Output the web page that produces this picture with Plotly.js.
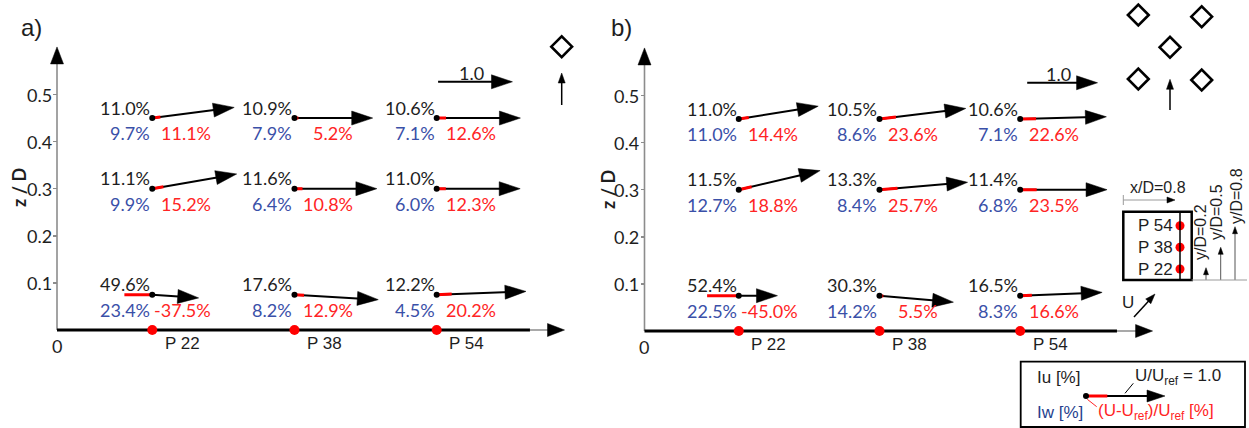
<!DOCTYPE html>
<html>
<head>
<meta charset="utf-8">
<script src="https://cdn.plot.ly/plotly-3.0.1.min.js"></script>
<style>
  html, body { margin: 0; padding: 0; background: #ffffff; }
  #chart { width: 1249px; height: 428px; }
</style>
</head>
<body>
<div id="chart"></div>
<script>
// Probe stations along the ground line and the three measurement heights
const stations = ['P 22', 'P 38', 'P 54'];
const stationPos = [1, 2, 3];
const heights = [0.45, 0.30, 0.075];          // z/D of the measurement rows
const yTicks = [0.1, 0.2, 0.3, 0.4, 0.5];

// a) single building  (rows follow `heights`, columns follow `stations`)
const iuA = [[11.0, 10.9, 10.6], [11.1, 11.6, 11.0], [49.6, 17.6, 12.2]];   // Iu [%]
const iwA = [[9.7, 7.9, 7.1], [9.9, 6.4, 6.0], [23.4, 8.2, 4.5]];          // Iw [%]
const duA = [[11.1, 5.2, 12.6], [15.2, 10.8, 12.3], [-37.5, 12.9, 20.2]];  // (U-Uref)/Uref [%]
const angA = [[7.4, 0, 0], [9.9, 0, 0], [-4.0, -3.4, 2.1]];                // flow angle [deg]

// b) building group
const iuB = [[11.0, 10.5, 10.6], [11.5, 13.3, 11.4], [52.4, 30.3, 16.5]];
const iwB = [[11.0, 8.6, 7.1], [12.7, 8.4, 6.8], [22.5, 14.2, 8.3]];
const duB = [[14.4, 23.6, 22.6], [18.8, 25.7, 23.5], [-45.0, 5.5, 16.6]];
const angB = [[9.2, 7.0, 1.5], [13.2, 4.8, 0], [0, -5.0, 2.3]];

// ---------------------------------------------------------------------------
const W = 1249, H = 428;
const X0 = 0.33;            // origin of the distance axis
const XR0 = 0.2, X1 = 4.0;  // visible x range
const ZR0 = -0.05, Z1 = 0.62;
const NUM_FONT = 'Lato, "Open Sans", sans-serif';
const SANS = '"Liberation Sans", Arial, sans-serif';
const C_TXT = '#1e1e1e', C_BLUE = '#3a50a8', C_RED = '#ff2424', C_AXIS = '#8c8c8c';

const panels = [
  { xa: 'x',  ya: 'y',  left: 57,    base: 330, pxX: 142.2, pxZ: 471,
    scale: 0.523, iu: iuA, iw: iwA, du: duA, ang: angA,
    refX: 3.01, refZ: 0.527, axisEnd: 3.656, axisTip: 3.899 },
  { xa: 'x2', ya: 'y2', left: 644.5, base: 331, pxX: 140.7, pxZ: 471,
    scale: 0.500, iu: iuB, iw: iwB, du: duB, ang: angB,
    refX: 3.05, refZ: 0.527, axisEnd: 3.688, axisTip: 3.941 }
];

const traces = [];
const annotations = [];
const shapes = [];

// filled arrow head, tip at (x, y), pointing along `deg` (screen angle, counter-clockwise)
function head(xref, yref, x, y, deg, len, wid) {
  const a = deg * Math.PI / 180, c = Math.cos(a), s = Math.sin(a);
  const pts = [[0, 0], [-len, wid / 2], [-len, -wid / 2]]
    .map(([u, v]) => (u * c - v * s).toFixed(2) + ',' + (u * s + v * c).toFixed(2));
  shapes.push({
    type: 'path', xref: xref, yref: yref, xsizemode: 'pixel', ysizemode: 'pixel',
    xanchor: x, yanchor: y, path: 'M' + pts.join('L') + 'Z',
    fillcolor: '#000000', line: { color: '#000000', width: 0.5 }, layer: 'above'
  });
}
function segment(xa, ya, xs, ys, color, width) {
  traces.push({
    type: 'scatter', mode: 'lines', xaxis: xa, yaxis: ya, x: xs, y: ys,
    cliponaxis: false, hoverinfo: 'skip', showlegend: false,
    line: { color: color, width: width }
  });
}
// arrow from (x0,y0) to (x1,y1); sx, sy = screen pixels per unit (sy < 0 for a downward axis)
function arrow(xa, ya, x0, y0, x1, y1, sx, sy, o) {
  const dxp = (x1 - x0) * sx, dyp = (y1 - y0) * sy;
  const a = Math.atan2(dyp, dxp);
  const back = o.len * 0.6;
  const xe = x1 - back * Math.cos(a) / sx, ye = y1 - back * Math.sin(a) / sy;
  segment(xa, ya, [x0, xe], [y0, ye], o.color || '#000000', o.width || 2);
  head(xa, ya, x1, y1, a * 180 / Math.PI, o.len, o.wid);
}
function text(xref, yref, x, y, t, o) {
  annotations.push(Object.assign({
    xref: xref, yref: yref, x: x, y: y, text: t, showarrow: false,
    xanchor: 'center', yanchor: 'middle',
    font: { family: NUM_FONT, size: 18, color: C_TXT }
  }, o || {}));
}

const layout = {
  width: W, height: H,
  margin: { l: 0, r: 0, t: 0, b: 0 },
  paper_bgcolor: '#ffffff', plot_bgcolor: 'rgba(0,0,0,0)',
  showlegend: false,
  annotations: annotations, shapes: shapes
};

panels.forEach((p, k) => {
  const xName = k === 0 ? 'xaxis' : 'xaxis2';
  const yName = k === 0 ? 'yaxis' : 'yaxis2';
  const dLeft = p.left - (X0 - XR0) * p.pxX;
  const right = p.left + (X1 - X0) * p.pxX;
  const bottom = p.base - ZR0 * p.pxZ;
  const top = p.base - Z1 * p.pxZ;
  layout[xName] = {
    domain: [dLeft / W, right / W], range: [XR0, X1], anchor: p.ya,
    showgrid: false, zeroline: false, showline: false, showticklabels: false, ticks: ''
  };
  layout[yName] = {
    domain: [1 - bottom / H, 1 - top / H], range: [ZR0, Z1],
    anchor: 'free', position: p.left / W,
    showgrid: false, zeroline: false, showline: false, showticklabels: false,
    tickmode: 'array', tickvals: yTicks,
    ticks: 'outside', ticklen: 4, tickwidth: 1.5, tickcolor: C_AXIS
  };
  yTicks.forEach(v => text(p.xa, p.ya, X0, v, v.toFixed(1), { xanchor: 'right', xshift: -3 }));

  // ratio that keeps the arrow directions true on screen
  const k2 = p.pxX / p.pxZ;

  // axes
  segment(p.xa, p.ya, [X0, X0], [0, 0.585], C_AXIS, 1.6);
  head(p.xa, p.ya, X0, 0.601, 90, 17, 13);
  segment(p.xa, p.ya, [X0, p.axisEnd], [0, 0], '#000000', 3);
  segment(p.xa, p.ya, [p.axisEnd, p.axisTip - 10 / p.pxX], [0, 0], '#555555', 1.2);
  head(p.xa, p.ya, p.axisTip, 0, 0, 17, 13);

  // reference vector U/Uref = 1.0
  arrow(p.xa, p.ya, p.refX, p.refZ, p.refX + p.scale, p.refZ, p.pxX, p.pxZ, { len: 21, wid: 14 });
  text(p.xa, p.ya, p.refX + p.scale * 0.45, p.refZ, '1.0', { yshift: 9 });

  const dotX = [], dotY = [], redX = [], redY = [];
  heights.forEach((z, j) => {
    stationPos.forEach((x0, i) => {
      const ratio = 1 + p.du[j][i] / 100;
      const th = p.ang[j][i] * Math.PI / 180;
      const L = ratio * p.scale;
      arrow(p.xa, p.ya, x0, z, x0 + L * Math.cos(th), z + L * Math.sin(th) * k2,
            p.pxX, p.pxZ, { len: 21, wid: 14 });

      const d = p.du[j][i] / 100 * p.scale;
      if (d >= 0) {
        redX.push(x0, x0 + d * Math.cos(th), null);
        redY.push(z, z + d * Math.sin(th) * k2, null);
      } else {
        redX.push(x0, x0 + d, null);
        redY.push(z, z, null);
      }
      dotX.push(x0); dotY.push(z);

      text(p.xa, p.ya, x0, z, p.iu[j][i].toFixed(1) + '%',
           { xanchor: 'right', yshift: 10.5 });
      text(p.xa, p.ya, x0, z, p.iw[j][i].toFixed(1) + '%',
           { xanchor: 'right', yshift: -15, font: { family: NUM_FONT, size: 18, color: C_BLUE } });
      text(p.xa, p.ya, x0, z, p.du[j][i].toFixed(1) + '%',
           { xanchor: 'right', xshift: 61, yshift: -15, font: { family: NUM_FONT, size: 18, color: C_RED } });
    });
  });
  traces.push({ type: 'scatter', mode: 'lines', xaxis: p.xa, yaxis: p.ya, x: redX, y: redY,
    cliponaxis: false, hoverinfo: 'skip', showlegend: false, connectgaps: false,
    line: { color: '#ff0000', width: 3 } });
  traces.push({ type: 'scatter', mode: 'markers', xaxis: p.xa, yaxis: p.ya, x: dotX, y: dotY,
    cliponaxis: false, hoverinfo: 'skip', showlegend: false,
    marker: { color: '#000000', size: 6 } });

  // probe stations on the ground line
  traces.push({ type: 'scatter', mode: 'markers', xaxis: p.xa, yaxis: p.ya,
    x: stationPos, y: stationPos.map(() => 0), cliponaxis: false, hoverinfo: 'skip', showlegend: false,
    marker: { color: '#ff0000', size: 10 } });
  stationPos.forEach((x0, i) => {
    text(p.xa, p.ya, x0, 0, stations[i],
         { xshift: 30, yshift: -13, font: { family: SANS, size: 17, color: C_TXT } });
  });
  text(p.xa, p.ya, X0, 0, '0', { yshift: -16 });
});

// ---------------------------------------------------------------------------
// Sketch layer: building plan views, inset of the probe mast and the key box
layout.xaxis3 = { domain: [0, 1], range: [0, W], anchor: 'y3', visible: false, fixedrange: true };
layout.yaxis3 = { domain: [0, 1], range: [H, 0], anchor: 'x3', visible: false, fixedrange: true };
const SX = 'x3', SY = 'y3';
function sArrow(x0, y0, x1, y1, o) { arrow(SX, SY, x0, y0, x1, y1, 1, -1, o); }

// building footprints
traces.push({ type: 'scatter', mode: 'markers', xaxis: SX, yaxis: SY,
  x: [561.7, 1138.3, 1201.7, 1170, 1138.3, 1201.7],
  y: [46.7, 15, 16.7, 47.3, 79, 80],
  hoverinfo: 'skip', showlegend: false, cliponaxis: false,
  marker: { symbol: 'diamond-open', size: 16, color: '#000000', line: { width: 2.6, color: '#000000' } } });
// approach-flow direction
sArrow(561.7, 105, 561.7, 73, { width: 1.5, len: 10, wid: 7 });
sArrow(1170, 110, 1170, 79.3, { width: 1.5, len: 10, wid: 7 });

// panel tags and axis titles
text(SX, SY, 31, 27, 'a)', { font: { family: SANS, size: 24, color: C_TXT } });
text(SX, SY, 621, 27, 'b)', { font: { family: SANS, size: 24, color: C_TXT } });
text(SX, SY, 19, 188, '<b>z / D</b>', { textangle: -90, font: { family: NUM_FONT, size: 18, color: C_TXT } });
text(SX, SY, 608, 190, '<b>z / D</b>', { textangle: -90, font: { family: NUM_FONT, size: 18, color: C_TXT } });

// mast inset
shapes.push({ type: 'rect', xref: SX, yref: SY, x0: 1123.3, x1: 1191.7, y0: 211.7, y1: 280,
  line: { color: '#000000', width: 2.5 } });
shapes.push({ type: 'line', xref: SX, yref: SY, x0: 1180, x1: 1180, y0: 211.7, y1: 280,
  line: { color: '#000000', width: 1.5 } });
shapes.push({ type: 'line', xref: SX, yref: SY, x0: 1191.7, x1: 1247, y0: 280, y1: 280,
  line: { color: '#9a9a9a', width: 1 } });
shapes.push({ type: 'line', xref: SX, yref: SY, x0: 1123.3, x1: 1123.3, y0: 195, y1: 205,
  line: { color: '#9a9a9a', width: 1 } });
sArrow(1123.3, 200, 1175, 200, { color: '#9a9a9a', width: 1, len: 8, wid: 6 });
text(SX, SY, 1158, 187, 'x/D=0.8', { font: { family: SANS, size: 16, color: C_TXT } });

const mastY = [225.7, 247.3, 269];
traces.push({ type: 'scatter', mode: 'markers', xaxis: SX, yaxis: SY, x: [1180, 1180, 1180], y: mastY,
  hoverinfo: 'skip', showlegend: false, cliponaxis: false, marker: { color: '#ff0000', size: 9 } });
['P 54', 'P 38', 'P 22'].forEach((s, i) => {
  text(SX, SY, 1175, mastY[i], s, { xanchor: 'right', font: { family: SANS, size: 17, color: C_TXT } });
});
sArrow(1206, 280, 1206, 267.7, { color: '#555555', width: 1, len: 7, wid: 5 });
sArrow(1220.7, 280, 1220.7, 247.3, { color: '#555555', width: 1, len: 7, wid: 5 });
sArrow(1235, 280, 1235, 226.7, { color: '#555555', width: 1, len: 7, wid: 5 });
text(SX, SY, 1200, 232, 'y/D=0.2', { textangle: -90, font: { family: SANS, size: 16, color: C_TXT } });
text(SX, SY, 1216, 212, 'y/D=0.5', { textangle: -90, font: { family: SANS, size: 16, color: C_TXT } });
text(SX, SY, 1236, 196, 'y/D=0.8', { textangle: -90, font: { family: SANS, size: 16, color: C_TXT } });

// wind direction mark
text(SX, SY, 1128, 302, 'U', { font: { family: SANS, size: 17, color: C_TXT } });
sArrow(1134, 317, 1155, 294, { width: 1.5, len: 10, wid: 7 });

// key box
shapes.push({ type: 'rect', xref: SX, yref: SY, x0: 1020.7, x1: 1245, y0: 361.7, y1: 427,
  line: { color: '#000000', width: 1.8 } });
text(SX, SY, 1035, 377, 'Iu [%]', { xanchor: 'left', font: { family: SANS, size: 17, color: C_TXT } });
text(SX, SY, 1035, 412, 'Iw [%]', { xanchor: 'left', font: { family: SANS, size: 17, color: '#263f8e' } });
text(SX, SY, 1133, 377, 'U/U<sub>ref</sub> = 1.0', { xanchor: 'left', font: { family: SANS, size: 17, color: C_TXT } });
text(SX, SY, 1096, 412, '(U-U<sub>ref</sub>)/U<sub>ref</sub> [%]', { xanchor: 'left', font: { family: SANS, size: 17, color: C_RED } });
sArrow(1086, 396, 1165, 396, { width: 2, len: 18, wid: 12 });
segment(SX, SY, [1086, 1107.3], [396, 396], '#ff0000', 3);
segment(SX, SY, [1125, 1133.3], [393.3, 383.3], '#000000', 1);
segment(SX, SY, [1087.3, 1096.7], [399.3, 406.7], C_RED, 1);
traces.push({ type: 'scatter', mode: 'markers', xaxis: SX, yaxis: SY, x: [1086], y: [396],
  hoverinfo: 'skip', showlegend: false, cliponaxis: false, marker: { color: '#000000', size: 6 } });

Plotly.newPlot('chart', traces, layout, { staticPlot: true, displayModeBar: false });
</script>
</body>
</html>
